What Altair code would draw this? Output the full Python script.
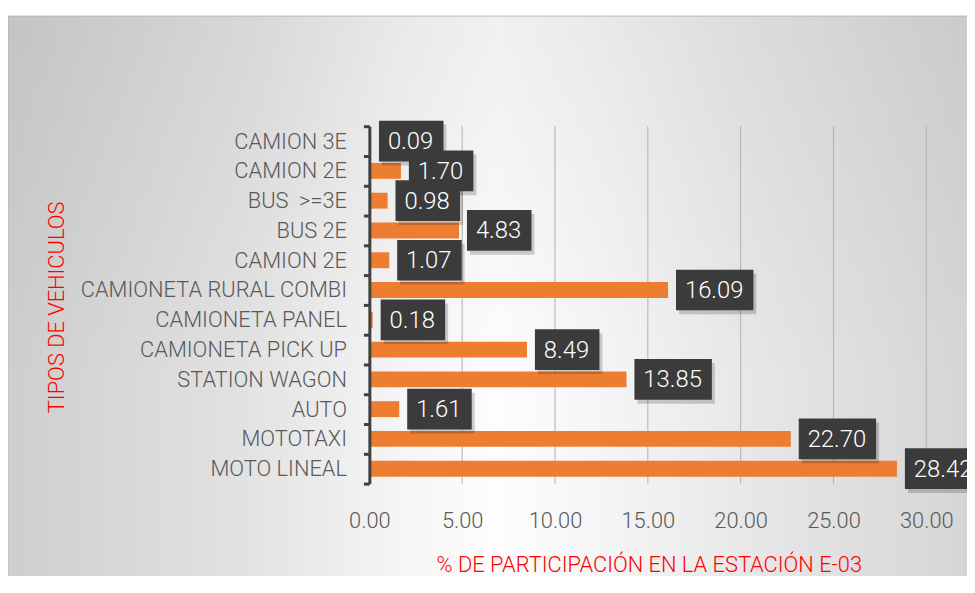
import altair as alt
import pandas as pd

# ---- data ----
vehiculos = [
    "CAMION 3E", "CAMION 2E", "BUS\u00a0\u00a0>=3E", "BUS 2E", "CAMION 2E\u200b",
    "CAMIONETA RURAL COMBI", "CAMIONETA PANEL", "CAMIONETA PICK UP",
    "STATION WAGON", "AUTO", "MOTOTAXI", "MOTO LINEAL",
]
porcentajes = [0.09, 1.70, 0.98, 4.83, 1.07, 16.09, 0.18, 8.49, 13.85, 1.61, 22.70, 28.42]
x_ticks = [0, 5, 10, 15, 20, 25, 30]

x_title = "% DE PARTICIPACIÓN EN LA ESTACIÓN E-03"
y_title = "TIPOS DE VEHICULOS"

df = pd.DataFrame({"vehiculo": vehiculos, "valor": porcentajes})
ticks_df = pd.DataFrame({"t": x_ticks})

FONT = "Roboto, Liberation Sans, sans-serif"
W, H = 561, 360
LEFT = 364
PAD = {"left": LEFT, "top": 117, "right": 41, "bottom": 91}

x_scale = alt.Scale(domain=[0, 30], nice=False, zero=True)
x_enc = alt.X(
    "valor:Q",
    scale=x_scale,
    axis=alt.Axis(
        values=x_ticks, format=".2f", grid=False, zindex=1,
        domain=False, ticks=False, labelFlush=False, labelFontSize=22,
        labelColor="#595959", labelFont=FONT, labelFontWeight=300, labelPadding=27,
        title=x_title, titleColor="#FF0000", titleFont=FONT, titleFontSize=22,
        titleFontWeight=300, titleX=W / 2 + 1, titleY=82, titleBaseline="middle",
        titleAlign="center",
    ),
)
y_enc = alt.Y(
    "vehiculo:N",
    sort=vehiculos,
    scale=alt.Scale(paddingInner=0, paddingOuter=0),
    axis=alt.Axis(
        zindex=1, labelLimit=0,
        domainColor="#404040", domainWidth=3, tickColor="#404040", tickWidth=3,
        tickSize=6, tickBand="extent", labelFont=FONT, labelFontSize=22,
        labelFontWeight=300, labelColor="#595959", labelPadding=17, grid=False,
        title=y_title, titleColor="#FF0000", titleFont=FONT, titleFontSize=22,
        titleFontWeight=300, titleAngle=270, titleX=57 - 8 - LEFT, titleY=H / 2 + 2,
        titleAlign="center", titleBaseline="middle",
    ),
)

bg_grad = {
    "gradient": "linear", "x1": 0, "y1": 0, "x2": 1, "y2": 0,
    "stops": [
        {"offset": 0, "color": "#cecece"},
        {"offset": 0.25, "color": "#e3e3e3"},
        {"offset": 0.4, "color": "#f5f5f5"},
        {"offset": 0.5, "color": "#fdfdfd"},
        {"offset": 0.6, "color": "#f6f6f6"},
        {"offset": 0.75, "color": "#e8e8e8"},
        {"offset": 1, "color": "#d4d4d4"},
    ],
}
top_grad = {
    "gradient": "linear", "x1": 0, "y1": 0, "x2": 0, "y2": 1,
    "stops": [
        {"offset": 0, "color": "rgba(0,0,0,0.05)"},
        {"offset": 0.65, "color": "rgba(0,0,0,0)"},
        {"offset": 1, "color": "rgba(0,0,0,0)"},
    ],
}
one = pd.DataFrame({"k": [0]})
bg = alt.Chart(one).mark_rect(color=bg_grad, stroke="#bdbdbd", strokeWidth=1).encode(
    x=alt.value(-LEFT), x2=alt.value(W + 60), y=alt.value(-111), y2=alt.value(H + 100)
)
bg2 = alt.Chart(one).mark_rect(color=top_grad).encode(
    x=alt.value(-LEFT), x2=alt.value(W + 60), y=alt.value(-111), y2=alt.value(H + 100)
)

grid = alt.Chart(ticks_df).mark_rule(color="#b0b0b0", strokeWidth=1).encode(
    x=alt.X("t:Q", scale=x_scale), y=alt.value(0), y2=alt.value(H)
)

base = alt.Chart(df)
bars = base.mark_bar(color="#ED7D31", size=16).encode(x=x_enc, y=y_enc)

lab = base.transform_calculate(lab="format(datum.valor, '.2f')")
box_layers = []
for n, w in [(4, 65), (5, 78)]:
    sub = lab.transform_filter(f"length(datum.lab) == {n}")
    box_layers.append(
        sub.mark_bar(color="#000000", opacity=0.18, size=41, xOffset=11, x2Offset=11 + w, yOffset=4)
        .encode(x="valor:Q", x2="valor:Q", y=alt.Y("vehiculo:N", sort=vehiculos))
    )
    box_layers.append(
        sub.mark_bar(color="#3b3b3b", size=41, xOffset=8, x2Offset=8 + w)
        .encode(x="valor:Q", x2="valor:Q", y=alt.Y("vehiculo:N", sort=vehiculos))
    )
texts = lab.mark_text(
    align="left", baseline="middle", dx=17, dy=1, fontSize=24, fontWeight=300,
    font=FONT, color="#ffffff"
).encode(x="valor:Q", y=alt.Y("vehiculo:N", sort=vehiculos), text="lab:N")

chart = (
    alt.layer(bg, bg2, grid, bars, *box_layers, texts)
    .properties(width=W, height=H, padding=PAD, autosize=alt.AutoSizeParams(type="none"))
    .configure_view(stroke=None)
    .configure(background="#ffffff")
)

chart.save("out.html", embed_options={"renderer": "svg", "actions": False})
